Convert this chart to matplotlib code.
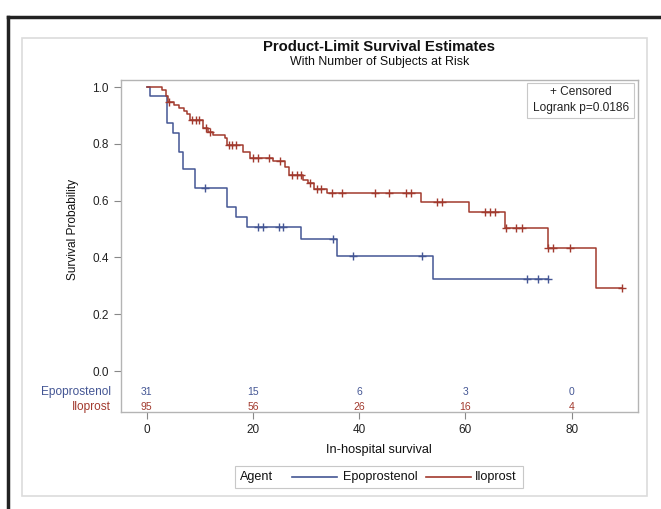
import matplotlib
matplotlib.use('Agg')
import matplotlib.pyplot as plt
from matplotlib.lines import Line2D
from matplotlib.patches import Rectangle
import numpy as np

plt.rcParams['font.family'] = ['Liberation Sans', 'DejaVu Sans']

# ---------------- data ----------------
groups = ['Epoprostenol', 'Iloprost']
colors = ['#445694', '#A23A2E']

epo_times = [0, 0.6, 3.9, 4.9, 6.0, 6.9, 9.0, 15.1, 16.9, 18.9, 29.0, 35.9, 53.9]
epo_surv = [1.0, 0.968, 0.874, 0.837, 0.772, 0.710, 0.645, 0.579, 0.543, 0.508, 0.464, 0.406, 0.325]
epo_end = 75.6
epo_cens = [11.0, 21.0, 21.8, 24.9, 25.7, 35.0, 38.8, 51.8, 71.6, 73.6, 75.6]

ilo_times = [0, 2.8, 3.6, 4.0, 5.2, 6.0, 7.0, 7.6, 8.2, 10.6, 11.5, 12.5, 14.7, 15.1, 18.2,
             19.4, 23.8, 26.0, 26.7, 29.5, 30.3, 31.4, 33.9, 51.6, 60.7, 67.5, 75.5, 84.5]
ilo_surv = [1.0, 0.989, 0.968, 0.948, 0.937, 0.926, 0.916, 0.905, 0.884, 0.854, 0.840, 0.830,
            0.819, 0.796, 0.772, 0.749, 0.740, 0.719, 0.690, 0.673, 0.661, 0.640, 0.626, 0.596,
            0.560, 0.504, 0.434, 0.292]
ilo_end = 89.5
ilo_cens = [4.2, 8.5, 9.2, 9.8, 11.1, 12.0, 15.4, 16.0, 16.9, 20.1, 21.0, 23.1, 25.0, 27.3,
            28.2, 29.0, 30.8, 32.0, 32.9, 34.8, 36.8, 42.9, 45.7, 48.9, 49.7, 54.7, 55.6,
            63.6, 64.6, 65.5, 67.6, 69.6, 70.6, 75.6, 76.4, 79.6, 89.5]

risk_times = [0, 20, 40, 60, 80]
epo_risk = [31, 15, 6, 3, 0]
ilo_risk = [95, 56, 26, 16, 4]

x_ticks = [0, 20, 40, 60, 80]
y_ticks = [0.0, 0.2, 0.4, 0.6, 0.8, 1.0]

title = 'Product-Limit Survival Estimates'
subtitle = 'With Number of Subjects at Risk'
xlabel = 'In-hospital survival'
ylabel = 'Survival Probability'
legend_title = 'Agent'
pvalue_text = 'Logrank p=0.0186'

# ---------------- figure ----------------
W, H = 661, 509
fig = plt.figure(figsize=(W / 100, H / 100), dpi=100)
fig.patch.set_facecolor('white')

def fx(px):
    return px / W

def fy(py):
    return 1 - py / H

# outer black frame (top and left)
fig.add_artist(Line2D([fx(8), fx(661)], [fy(17), fy(17)], color='#222222', lw=2.5))
fig.add_artist(Line2D([fx(8), fx(8)], [fy(17), fy(509)], color='#222222', lw=2.5))
# inner light frame
fig.add_artist(Rectangle((fx(22), fy(496)), fx(647) - fx(22), fy(38) - fy(496),
                         fill=False, ec='#dcdcdc', lw=1.2))

ax_l, ax_r, ax_t, ax_b = 120.7, 638, 80, 412
ax = fig.add_axes([fx(ax_l), fy(ax_b), fx(ax_r) - fx(ax_l), fy(ax_t) - fy(ax_b)])

x0px, xscale = 146.7, 5.3125
y0px, yscale = 371, 284
ax.set_xlim((ax_l - x0px) / xscale, (ax_r - x0px) / xscale)
ax.set_ylim((y0px - ax_b) / yscale, (y0px - ax_t) / yscale)

for t, s, end, cens, c in [(epo_times, epo_surv, epo_end, epo_cens, colors[0]),
                           (ilo_times, ilo_surv, ilo_end, ilo_cens, colors[1])]:
    xs = list(t) + [end]
    ys = list(s) + [s[-1]]
    ax.step(xs, ys, where='post', color=c, lw=1.1, zorder=3)
    tt = np.array(t)
    idx = np.searchsorted(tt, np.array(cens), side='right') - 1
    cy = np.array(s)[idx]
    ax.plot(cens, cy, ls='none', marker='+', ms=6, mew=1.0, color=c, zorder=4)

ax.set_xticks(x_ticks)
ax.set_yticks(y_ticks)
ax.set_yticklabels([f'{v:.1f}' for v in y_ticks])
ax.tick_params(axis='both', colors='#888888', labelcolor='#222222', labelsize=8.5, length=5, width=0.8)
for sp in ax.spines.values():
    sp.set_color('#b4b4b4')
    sp.set_linewidth(1.0)

ax.set_xlabel(xlabel, fontsize=9.2, color='#111111', labelpad=6)
ax.set_ylabel(ylabel, fontsize=8.6, color='#111111')
ax.yaxis.set_label_coords((79 - ax_l) / (ax_r - ax_l), (ax_b - 229) / (ax_b - ax_t))

# at-risk rows
row_y = [(y0px - 392) / yscale, (y0px - 407) / yscale]
row_py = [392, 407]
for name, vals, c, yy, py in [(groups[0], epo_risk, colors[0], row_y[0], row_py[0]),
                              (groups[1], ilo_risk, colors[1], row_y[1], row_py[1])]:
    for t, v in zip(risk_times, vals):
        ax.text(t, yy, str(v), color=c, fontsize=7.5, ha='center', va='center')
    fig.text(fx(111), fy(py), name, color=c, fontsize=8.6, ha='right', va='center')

# title
cx = (fx(ax_l) + fx(ax_r)) / 2
fig.text(cx, fy(47), title, fontsize=10.7, fontweight='bold', ha='center', va='center', color='#111111')
fig.text(cx, fy(62), subtitle, fontsize=8.9, ha='center', va='center', color='#111111')

# censored / logrank box
ax.add_patch(Rectangle((fx(527), fy(118)), fx(634) - fx(527), fy(83) - fy(118),
                       transform=fig.transFigure, fill=True, fc='white', ec='#c8c8c8', lw=0.8, zorder=5))
fig.text(fx(581), fy(92), '+ Censored', fontsize=8.6, ha='center', va='center', color='#222222', zorder=6)
fig.text(fx(581), fy(108), pvalue_text, fontsize=8.6, ha='center', va='center', color='#222222', zorder=6)

# bottom legend
fig.add_artist(Rectangle((fx(235), fy(488)), fx(523) - fx(235), fy(466) - fy(488),
                         fill=False, ec='#c8c8c8', lw=0.8))
ly = fy(477)
fig.text(fx(240), ly, legend_title, fontsize=9.1, ha='left', va='center', color='#111111')
fig.add_artist(Line2D([fx(292), fx(337)], [ly, ly], color=colors[0], lw=1.2))
fig.text(fx(343), ly, groups[0], fontsize=9.1, ha='left', va='center', color='#111111')
fig.add_artist(Line2D([fx(426), fx(471)], [ly, ly], color=colors[1], lw=1.2))
fig.text(fx(475), ly, groups[1], fontsize=9.1, ha='left', va='center', color='#111111')

fig.savefig('out.png', dpi=100)
